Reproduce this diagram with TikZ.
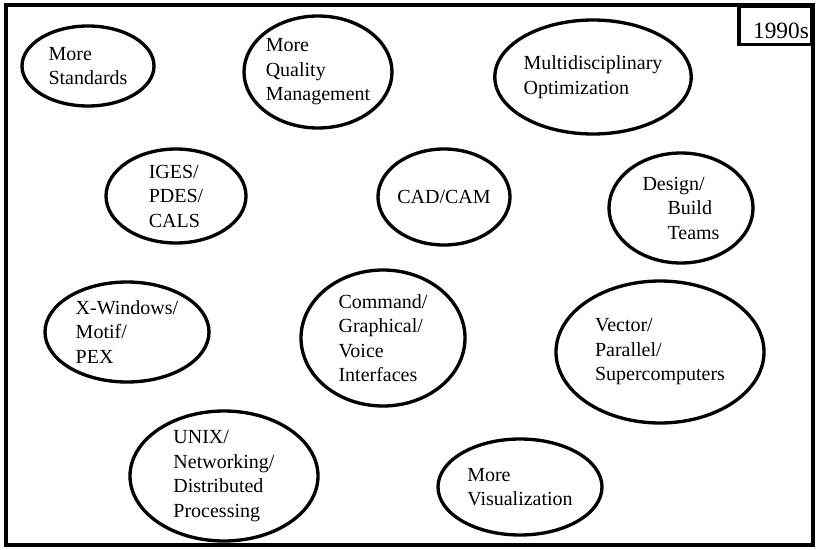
\documentclass[tikz,border=0pt]{standalone}
\usepackage{fontspec}
\setmainfont{Liberation Serif}
\usetikzlibrary{shapes.geometric}

\begin{document}
\begin{tikzpicture}[
  x=0.6pt,y=-0.6pt,
  every node/.style={font=\fontsize{12}{14.7}\selectfont,align=left},
  blob/.style 2 args={ellipse,draw,line width=2pt,inner sep=0pt,
    minimum width=#1*1.2pt,minimum height=#2*1.2pt},
  frame/.style={line width=2pt}
]
  \useasboundingbox (0,0) rectangle (819,550);
  \draw[frame] (6,5) rectangle (813,545);
  \node[draw,frame,anchor=north east,font=\fontsize{14}{16}\selectfont,
    minimum height=22.8pt,inner xsep=1.5pt,inner ysep=0pt,text width=40.5pt,
    align=right,text height=15.4pt,text depth=0pt] (era) at (813,5) {1990s};

  % top row
  \node[blob={66}{40}] (std) at (88,66) {More\\Standards};
  \node[blob={74}{56}] (qual) at (318,72) {More\\Quality\\Management};
  \node[blob={96}{57}] (mdo) at (593,77) {Multidisciplinary\\Optimization};

  % second row
  \node[blob={70}{47}] (iges) at (176,196) {IGES/\\PDES/\\CALS};
  \node[blob={66}{48}] (cad) at (444,197) {CAD/CAM};
  \node[blob={72}{55}] (team) at (681,208)
    {Design/\\\hspace*{15pt}Build\\\hspace*{15pt}Teams};

  % third row
  \node[blob={82}{50}] (xwin) at (127,332) {X-Windows/\\Motif/\\PEX};
  \node[blob={82}{68}] (cmd) at (383,338)
    {Command/\\Graphical/\\Voice\\Interfaces};
  \node[blob={104}{71}] (vec) at (660,352)
    {Vector/\\Parallel/\\Supercomputers};

  % bottom row
  \node[blob={94}{65}] (unix) at (224,476)
    {UNIX/\\Networking/\\Distributed\\Processing};
  \node[blob={82}{48}] (vis) at (520,487) {More\\Visualization};
\end{tikzpicture}
\end{document}
